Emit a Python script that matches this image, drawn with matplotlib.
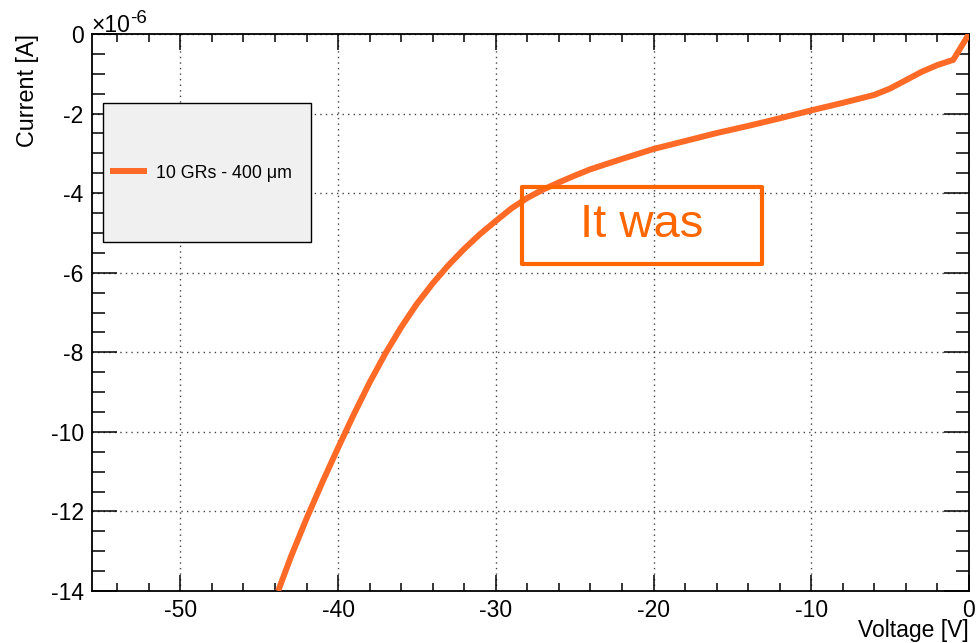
import matplotlib
matplotlib.use("Agg")
import matplotlib.pyplot as plt
from matplotlib.patches import Rectangle
from matplotlib.ticker import MultipleLocator

plt.rcParams['font.family'] = ['Liberation Sans', 'DejaVu Sans']
plt.rcParams['axes.unicode_minus'] = False

# IV curve, current in units of 1e-6 A
voltage = [-43.8, -43, -42, -41, -40, -39, -38, -37, -36, -35, -34, -33, -32,
           -31, -30, -29, -28, -27, -26, -25, -24, -22, -20, -18, -16, -14,
           -12, -10, -8, -6, -5, -4, -3, -2, -1, 0]
current = [-14.0, -13.15, -12.18, -11.27, -10.40, -9.56, -8.76, -8.03, -7.37,
           -6.78, -6.27, -5.81, -5.40, -5.03, -4.70, -4.38, -4.12, -3.91, -3.73,
           -3.56, -3.40, -3.14, -2.89, -2.69, -2.49, -2.31, -2.12, -1.92, -1.73,
           -1.53, -1.37, -1.16, -0.95, -0.78, -0.65, 0.0]
series_label = '10 GRs - 400 μm'
note = 'It was'

curve_col = '#ff6a26'
box_col = '#ff6600'

fig = plt.figure(figsize=(9.78, 6.43), dpi=100)
ax = fig.add_axes([92 / 978, 52 / 643, 877 / 978, 557 / 643])

line, = ax.plot(voltage, current, color=curve_col, lw=4.3, solid_capstyle='butt',
                solid_joinstyle='round', zorder=3, label=series_label)

ax.set_xlim(-55.6, 0)
ax.set_ylim(-14, 0)
ax.xaxis.set_major_locator(MultipleLocator(10))
ax.xaxis.set_minor_locator(MultipleLocator(2))
ax.yaxis.set_major_locator(MultipleLocator(2))
ax.yaxis.set_minor_locator(MultipleLocator(0.5))

ax.tick_params(axis='both', which='both', direction='in', top=True, right=True,
               width=1.1, labelsize=16.5, pad=6, colors='black')
ax.tick_params(axis='x', which='major', length=11.5)
ax.tick_params(axis='x', which='minor', length=6)
ax.tick_params(axis='y', which='major', length=18)
ax.tick_params(axis='y', which='minor', length=9.5)
for s in ax.spines.values():
    s.set_linewidth(1.3)

ax.grid(True, which='major', color='#444444', lw=1.0, ls=(0, (1, 3)), zorder=1)

# legend box
ax.add_patch(Rectangle((0.0125, 0.6266), 0.2372, 0.2495, transform=ax.transAxes,
                       facecolor='#f0f0f0', edgecolor='black', lw=1.0, zorder=4))
ax.legend(handles=[line], loc='center left', bbox_to_anchor=(0.006, 0.7504),
          frameon=False, fontsize=12.8, handlelength=2.1, handletextpad=0.5,
          borderpad=0.2).set_zorder(5)

# annotation box
ax.add_patch(Rectangle((0.49, 0.5871), 0.2736, 0.1388, transform=ax.transAxes,
                       facecolor='none', edgecolor=box_col, lw=3, zorder=4,
                       joinstyle='round'))
ax.text(0.6268, 0.6565, note, transform=ax.transAxes, ha='center', va='center',
        fontsize=34, color=box_col, zorder=5)

fig.text(28 / 978, 1 - 34 / 643, 'Current [A]', rotation=90, ha='center', va='top',
         fontsize=16.8)
fig.text(969 / 978, 1 - 637.5 / 643, 'Voltage [V]', ha='right', va='baseline',
         fontsize=16.5)
# exponent of the y axis
fig.text(91 / 978, 1 - 32 / 643, '×10', ha='left', va='baseline', fontsize=16.5)
fig.text(130 / 978, 1 - 23 / 643, '-6', ha='left', va='baseline', fontsize=13.5)

fig.savefig('out.png', dpi=100)
